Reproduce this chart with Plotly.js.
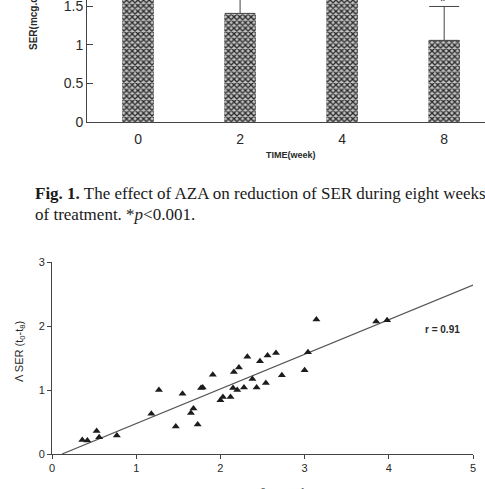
<!DOCTYPE html>
<html>
<head>
<meta charset="utf-8">
<script src="https://cdn.plot.ly/plotly-3.0.1.min.js"></script>
<style>
  html, body { margin: 0; padding: 0; background: #fff; }
  #chart { width: 485px; height: 489px; }
</style>
</head>
<body>
<div id="chart"></div>
<script>
// Fig. 1: SER during eight weeks of AZA treatment (mean with upper error)
const weeks = ['0', '2', '4', '8'];
const serMean = [2.15, 1.41, 1.95, 1.06];
const serErrUp = [0.40, 0.45, 0.40, 0.44];

// Correlation panel: baseline value vs. fall in SER (t0 - t8)
const ptX = [0.36, 0.42, 0.53, 0.56, 0.77, 1.18, 1.27, 1.47, 1.55, 1.65,
             1.68, 1.73, 1.77, 1.79, 1.91, 2.00, 2.03, 2.12, 2.15, 2.16,
             2.20, 2.22, 2.28, 2.32, 2.38, 2.43, 2.47, 2.54, 2.56, 2.66,
             2.73, 3.00, 3.04, 3.14, 3.85, 3.98];
const ptY = [0.22, 0.21, 0.36, 0.26, 0.29, 0.63, 1.00, 0.43, 0.94, 0.64,
             0.71, 0.46, 1.03, 1.04, 1.24, 0.84, 0.89, 0.89, 1.03, 1.28,
             1.00, 1.35, 1.04, 1.52, 1.17, 1.04, 1.45, 1.11, 1.54, 1.58,
             1.23, 1.31, 1.59, 2.10, 2.07, 2.09];

// Regression line end points
const fitX = [0.12, 5.0];
const fitY = [0.0, 2.64];
const rLabel = 'r = 0.91';

const W = 485, H = 489;
const px = x => x / W;
const py = y => 1 - y / H;

const axisCol = '#444';
const textCol = '#2a2a2a';

const bars = {
  type: 'bar',
  x: weeks,
  y: serMean,
  xaxis: 'x', yaxis: 'y',
  width: 0.31,
  marker: {
    color: '#555',
    line: { width: 0 },
    pattern: { shape: 'x', fgcolor: '#2a2a2a', bgcolor: '#c4c4c4', size: 4, solidity: 0.55, fillmode: 'replace' }
  },
  error_y: {
    type: 'data', symmetric: false,
    array: serErrUp, arrayminus: [0, 0, 0, 0],
    color: axisCol, thickness: 1, width: 15
  },
  hoverinfo: 'skip'
};

const pts = {
  type: 'scatter', mode: 'markers',
  x: ptX, y: ptY,
  xaxis: 'x2', yaxis: 'y2',
  marker: { symbol: 'triangle-up', size: 7, color: '#1c1c1c' },
  hoverinfo: 'skip'
};

const fit = {
  type: 'scatter', mode: 'lines',
  x: fitX, y: fitY,
  xaxis: 'x2', yaxis: 'y2',
  line: { color: '#555', width: 1.2 },
  hoverinfo: 'skip'
};

const sans = 'Liberation Sans, Arial, sans-serif';
const serif = 'Liberation Serif, Times New Roman, serif';

const layout = {
  width: W, height: H,
  margin: { l: 0, r: 0, t: 0, b: 0 },
  paper_bgcolor: '#fff',
  plot_bgcolor: 'rgba(0,0,0,0)',
  showlegend: false,
  font: { family: sans, color: textCol },
  xaxis: {
    domain: [px(87), 1], anchor: 'y', type: 'category',
    range: [-0.5, 3.4],
    showline: true, linecolor: axisCol, linewidth: 1,
    ticks: 'outside', ticklen: 4, tickcolor: 'rgba(0,0,0,0)',
    tickfont: { size: 14, color: textCol },
    showgrid: false, zeroline: false, fixedrange: true
  },
  yaxis: {
    domain: [py(122), 1], anchor: 'x',
    range: [0, 1.584],
    tickvals: [0, 0.5, 1, 1.5], ticktext: ['0', '0.5', '1', '1.5'],
    ticks: 'inside', ticklen: 6, tickcolor: axisCol,
    ticklabeloverflow: 'allow',
    showline: true, linecolor: axisCol, linewidth: 1,
    tickfont: { size: 14, color: textCol },
    showgrid: false, zeroline: false, fixedrange: true
  },
  xaxis2: {
    domain: [px(52), px(473)], anchor: 'y2',
    range: [0, 5], dtick: 1,
    ticks: 'outside', ticklen: 4, tickcolor: axisCol,
    showline: true, linecolor: axisCol, linewidth: 1,
    tickfont: { size: 11, color: textCol },
    showgrid: false, zeroline: false, fixedrange: true
  },
  yaxis2: {
    domain: [py(454), py(262)], anchor: 'x2',
    range: [0, 3], dtick: 1,
    ticks: 'outside', ticklen: 4, tickcolor: axisCol,
    showline: true, linecolor: axisCol, linewidth: 1,
    tickfont: { size: 11, color: textCol },
    showgrid: false, zeroline: false, fixedrange: true
  },
  annotations: [
    { text: '<b>SER(mcg.dl<sup>-1</sup>)</b>', textangle: -90, xref: 'paper', yref: 'paper',
      x: px(33), y: py(52), xanchor: 'center', yanchor: 'bottom', showarrow: false,
      font: { size: 10, family: sans, color: textCol } },
    { text: '<b>TIME(week)</b>', xref: 'paper', yref: 'paper',
      x: px(291), y: py(155), xanchor: 'center', yanchor: 'middle', showarrow: false,
      font: { size: 9, family: sans, color: textCol } },
    { text: '*', xref: 'paper', yref: 'paper',
      x: px(443), y: py(1), xanchor: 'center', yanchor: 'middle', showarrow: false,
      font: { size: 14, family: sans, color: textCol } },
    { text: '<b>Fig. 1.</b> The effect of AZA on reduction of SER during eight weeks', xref: 'paper', yref: 'paper',
      x: px(33), y: py(193), xanchor: 'left', yanchor: 'middle', showarrow: false,
      font: { size: 17, family: serif, color: '#1a1a1a' } },
    { text: 'of treatment. *<i>p</i>&lt;0.001.', xref: 'paper', yref: 'paper',
      x: px(33), y: py(214), xanchor: 'left', yanchor: 'middle', showarrow: false,
      font: { size: 17, family: serif, color: '#1a1a1a' } },
    { text: '<b>' + rLabel + '</b>', xref: 'paper', yref: 'paper',
      x: px(442), y: py(329), xanchor: 'center', yanchor: 'middle', showarrow: false,
      font: { size: 10, family: sans, color: textCol } },
    { text: 'Λ SER (t<sub>0</sub>-t<sub>8</sub>)', textangle: -90, xref: 'paper', yref: 'paper',
      x: px(20), y: py(352), xanchor: 'center', yanchor: 'middle', showarrow: false,
      font: { size: 11, family: sans, color: textCol } },
    { text: 'SER<sub>0</sub> (10<sup>3</sup> mcg.h<sup>-1</sup>)', xref: 'paper', yref: 'paper',
      x: px(262), y: py(494), xanchor: 'center', yanchor: 'middle', showarrow: false,
      font: { size: 11, family: sans, color: textCol } }
  ]
};

Plotly.newPlot('chart', [bars, fit, pts], layout, { displayModeBar: false, staticPlot: true });
</script>
</body>
</html>
